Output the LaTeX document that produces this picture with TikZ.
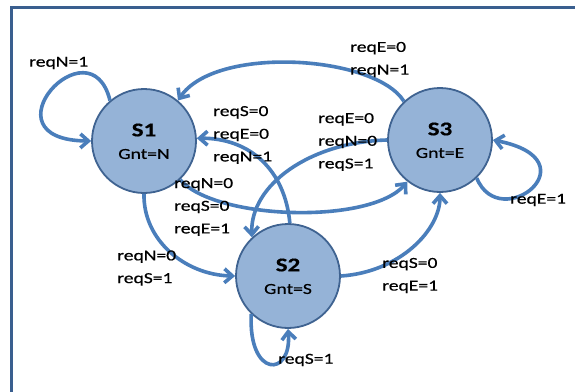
\documentclass[tikz,border=0pt]{standalone}
\usepackage{fontspec}
\setmainfont{Carlito}[FakeStretch=1.28,FakeBold=0.5]
\usetikzlibrary{arrows.meta}
\definecolor{edgeblue}{HTML}{4A7EBB}
\definecolor{statefill}{HTML}{95B3D7}
\definecolor{stateline}{HTML}{3F6391}
\definecolor{framecol}{HTML}{3A5F8F}
\begin{document}
\begin{tikzpicture}[x=1pt,y=-1pt,
  state/.style={circle, draw=stateline, line width=1.8pt, fill=statefill, minimum size=104pt, inner sep=0pt},
  edge/.style={draw=edgeblue, line width=3.6pt, -{Straight Barb[length=8pt,width=14pt]}},
  lbl/.style={font=\fontsize{15.3}{22.7}\selectfont, align=left, anchor=west, inner sep=0pt},
  stitle/.style={font=\fontsize{19.5}{20}\selectfont\bfseries, inner sep=0pt},
  sgnt/.style={font=\fontsize{15.3}{18}\selectfont, inner sep=0pt}
]
\useasboundingbox (0,0) rectangle (575,391);
\fill[white] (0,0) rectangle (575,391);
\draw[framecol, line width=3pt] (11.5,395) -- (11.5,7) -- (580,7);

\node[state] (S1) at (144,141) {};
\node[state] (S3) at (440,140) {};
\node[state] (S2) at (288,276) {};

\draw[edge] (S1.130) .. controls (90,20) and (-20,140) .. (S1.180);
\draw[edge] (S3.133) .. controls (375,55) and (215,45) .. (S1.50);
\draw[edge] (S3.180) .. controls (310,142) and (250,185) .. (S2.133);
\draw[edge] (S2.88) .. controls (285,170) and (250,138) .. (S1.3);
\draw[edge] (S1.-47) .. controls (215,220) and (370,225) .. (S3.-128);
\draw[edge] (S1.270) .. controls (143,240) and (185,275) .. (S2.180);
\draw[edge] (S2.0) .. controls (400,272) and (440,230) .. (S3.270);
\draw[edge] (S2.226) .. controls (248,378) and (292,378) .. (S2.270);
\draw[edge] (S3.-46) .. controls (500,235) and (595,160) .. (S3.0);

\node[stitle] (S1t) at (144,130) {S1};
\node[sgnt] (S1g) at (144,154) {Gnt=N};
\node[stitle] (S3t) at (440,129) {S3};
\node[sgnt] (S3g) at (440,153) {Gnt=E};
\node[stitle] (S2t) at (288,265) {S2};
\node[sgnt] (S2g) at (288,289) {Gnt=S};

\node[lbl] (l1) at (29,63) {reqN=1};
\node[lbl] (l2) at (350,59.5) {reqE=0\\reqN=1};
\node[lbl] (l3) at (213,135) {reqS=0\\reqE=0\\reqN=1};
\node[lbl] (l4) at (318,142) {reqE=0\\reqN=0\\reqS=1};
\node[lbl] (l5) at (174,207) {reqN=0\\reqS=0\\reqE=1};
\node[lbl] (l6) at (117,268) {reqN=0\\reqS=1};
\node[lbl] (l7) at (382,275.5) {reqS=0\\reqE=1};
\node[lbl] (l8) at (278,360) {reqS=1};
\node[lbl] (l9) at (510,200) {reqE=1};
\end{tikzpicture}
\end{document}
